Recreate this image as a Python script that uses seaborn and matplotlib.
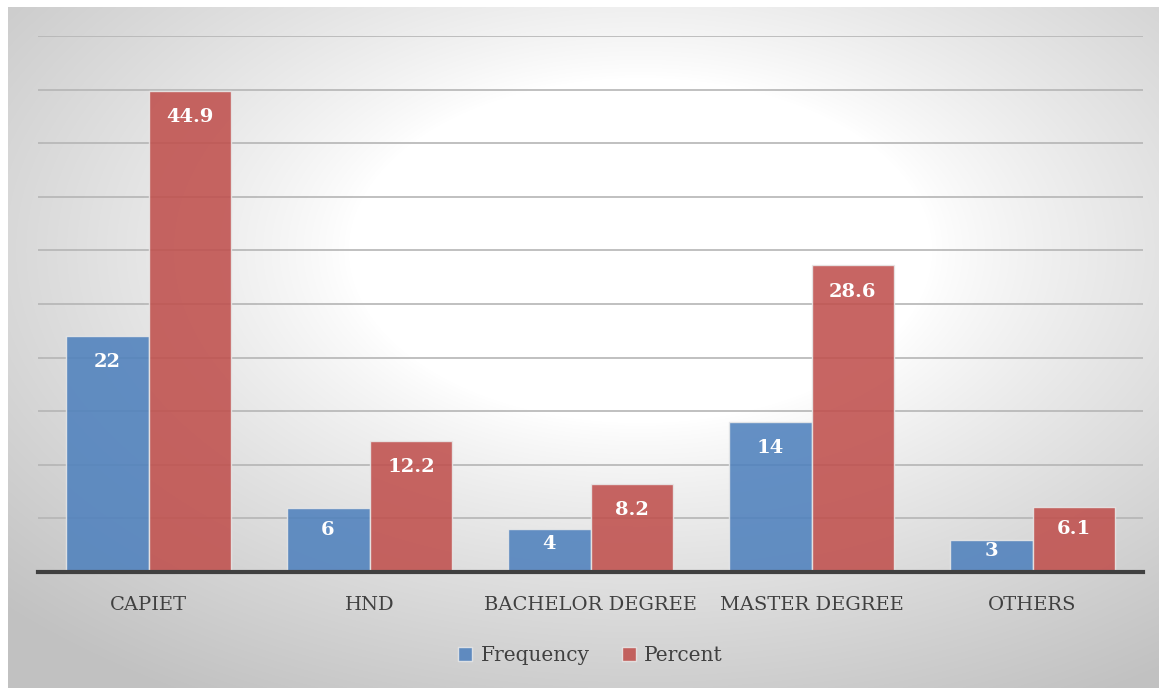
import matplotlib.pyplot as plt
import seaborn as sns
import numpy as np
import pandas as pd

categories = ["CAPIET", "HND", "BACHELOR DEGREE", "MASTER DEGREE", "OTHERS"]
frequency = [22, 6, 4, 14, 3]
percent = [44.9, 12.2, 8.2, 28.6, 6.1]
series = ["Frequency", "Percent"]

df = pd.DataFrame({
    "cat": categories * 2,
    "value": frequency + percent,
    "series": [series[0]] * len(categories) + [series[1]] * len(categories),
})

sns.set_style("white")
plt.rcParams['font.family'] = ['DejaVu Serif', 'DejaVu Sans']

fig = plt.figure(figsize=(11.66, 6.91), dpi=100)

# radial gradient background (white centre, grey edges)
bg = fig.add_axes([0, 0, 1, 1], zorder=-5)
W, H = 1166, 691
yy, xx = np.mgrid[0:H, 0:W]
r = np.sqrt(((xx - 640) / 583.0) ** 2 + ((yy - 250) / 345.0) ** 2)
shade = 1.0 - 0.24 * np.clip((r - 0.5) / 1.0, 0, 1) ** 0.85
img = np.dstack([shade] * 3)
# thin white margin around the chart
img[:7, :] = 1
img[688:, :] = 1
img[:, :8] = 1
img[:, 1159:] = 1
bg.imshow(img, aspect='auto', extent=[0, W, H, 0])
bg.axis('off')

ax = fig.add_axes([38 / W, 1 - 572 / H, (1143 - 38) / W, (572 - 36) / H])
ax.patch.set_alpha(0)

sns.barplot(data=df, x="cat", y="value", hue="series", ax=ax,
            palette=["#4F81BD", "#C0504D"], saturation=1, alpha=0.88,
            width=0.75, edgecolor="#e8e8e8", linewidth=1.0, zorder=3,
            legend=True)

ax.set_ylim(0, 50)
ax.set_yticks(np.arange(0, 51, 5))
ax.set_yticklabels([])
ax.tick_params(axis='y', length=0)
ax.tick_params(axis='x', length=0, pad=17, labelsize=14, colors="#404040")
ax.grid(axis='y', color="#b5b5b5", linewidth=1.2, zorder=1)
ax.set_axisbelow(True)
ax.set_xlabel("")
ax.set_ylabel("")
for s in ["top", "right", "left"]:
    ax.spines[s].set_visible(False)
ax.spines["bottom"].set_color("#404040")
ax.spines["bottom"].set_linewidth(3)
ax.spines["bottom"].set_zorder(5)

# data labels inside bar tops
for cont in ax.containers:
    for p in cont:
        h = p.get_height()
        off = min(2.45, 0.35 * h)
        ax.text(p.get_x() + p.get_width() / 2, h - off, f"{h:g}",
                ha='center', va='center', color='white', fontsize=14,
                fontweight='bold', zorder=6)

leg = ax.legend(loc='upper center', bbox_to_anchor=(0.5, -0.105), ncol=2,
                frameon=False, fontsize=14.5, handlelength=0.7,
                handleheight=0.7, handletextpad=0.4, columnspacing=1.6)
for t in leg.get_texts():
    t.set_color("#404040")

fig.savefig("out.png", dpi=100)
